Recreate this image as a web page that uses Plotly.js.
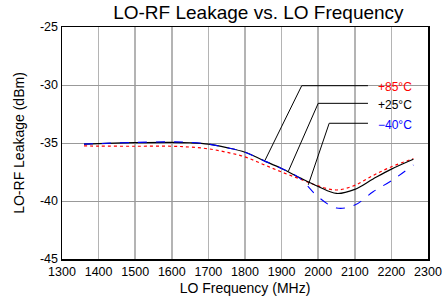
<!DOCTYPE html>
<html><head><meta charset="utf-8">
<script src="https://cdn.plot.ly/plotly-3.0.1.min.js"></script>
<style>html,body{margin:0;padding:0;background:#fff}#c{width:444px;height:305px}</style>
</head><body><div id="c"></div>
<script>
const freq = [1360,1400,1500,1600,1650,1700,1750,1800,1850,1900,1950,2000,2050,2100,2150,2200,2260];
const t25  = [-35.1,-35.05,-34.97,-34.94,-34.98,-35.1,-35.4,-35.8,-36.5,-37.2,-38.0,-38.75,-39.35,-39.0,-38.1,-37.25,-36.4];
const t85  = [-35.25,-35.27,-35.28,-35.28,-35.35,-35.5,-35.8,-36.2,-36.85,-37.5,-38.1,-38.7,-39.05,-38.65,-37.8,-37.05,-36.35];
const tm40 = [-35.1,-35.05,-34.95,-34.9,-34.95,-35.1,-35.4,-35.8,-36.5,-37.2,-38.05,-39.65,-40.6,-40.35,-39.2,-38.25,-36.9];

const xTicks = [1300,1400,1500,1600,1700,1800,1900,2000,2100,2200,2300];
const yTicks = [-45,-40,-35,-30,-25];
const yTickText = ["-45","-40","-35","-30","-25"];

// leader lines for labels [x points], [y points]
const lead85x = [2136,1955,1855], lead85y = [-30.06,-30.06,-36.47];
const lead25x = [2136,2000,1918], lead25y = [-31.58,-31.58,-37.47];
const leadm40x = [2136,2030,1973], leadm40y = [-33.3,-33.3,-38.6];
const labels = ["+85°C","+25°C","\u221240°C"];
const labelY = [-30.2,-31.75,-33.45];
const labelColors = ["#ff0000","#000000","#0000ff"];
const labelX = 2158;

const traces = [
  {x:freq,y:t85,mode:'lines',line:{color:'#ff0000',width:1.2,dash:'dot',shape:'spline'},hoverinfo:'skip'},
  {x:freq,y:t25,mode:'lines',line:{color:'#000000',width:1.2,shape:'spline'},hoverinfo:'skip'},
  {x:freq,y:tm40,mode:'lines',line:{color:'#0000ff',width:1.1,dash:'dash',shape:'spline'},hoverinfo:'skip'},
  {x:lead85x,y:lead85y,mode:'lines',line:{color:'#000',width:1},hoverinfo:'skip'},
  {x:lead25x,y:lead25y,mode:'lines',line:{color:'#000',width:1},hoverinfo:'skip'},
  {x:leadm40x,y:leadm40y,mode:'lines',line:{color:'#000',width:1},hoverinfo:'skip'}
];

const annotations = labels.map((t,i)=>({x:labelX,y:labelY[i],xref:'x',yref:'y',text:t,showarrow:false,xanchor:'left',yanchor:'middle',font:{family:'Liberation Sans, Arial, sans-serif',size:12,color:labelColors[i]}}));

const layout = {
  width:444,height:305,
  margin:{l:62,r:16,t:27,b:46},
  showlegend:false,
  paper_bgcolor:'#fff',plot_bgcolor:'#fff',
  font:{family:'Liberation Sans, Arial, sans-serif',size:12,color:'#000'},
  title:{text:'LO-RF Leakage vs. LO Frequency',x:0.582,xanchor:'center',y:0.958,yanchor:'middle',font:{size:19,color:'#000'}},
  xaxis:{range:[1300,2300],tickvals:xTicks,ticks:'',showgrid:true,gridcolor:'#b4b4b4',gridwidth:1.5,
    showline:true,linecolor:'#000',linewidth:1.5,mirror:true,zeroline:false,
    title:{text:'LO Frequency (MHz)',standoff:5,font:{size:14}},tickfont:{size:12.5}},
  yaxis:{range:[-45,-25],tickvals:yTicks,ticktext:yTickText,ticks:'',showgrid:true,gridcolor:'#999999',gridwidth:1,
    showline:true,linecolor:'#000',linewidth:1.5,mirror:true,zeroline:false,
    title:{text:'LO-RF Leakage (dBm)',standoff:12,font:{size:14}},tickfont:{size:12.5}},
  annotations:annotations
};
Plotly.newPlot('c',traces,layout,{staticPlot:true});
</script></body></html>
